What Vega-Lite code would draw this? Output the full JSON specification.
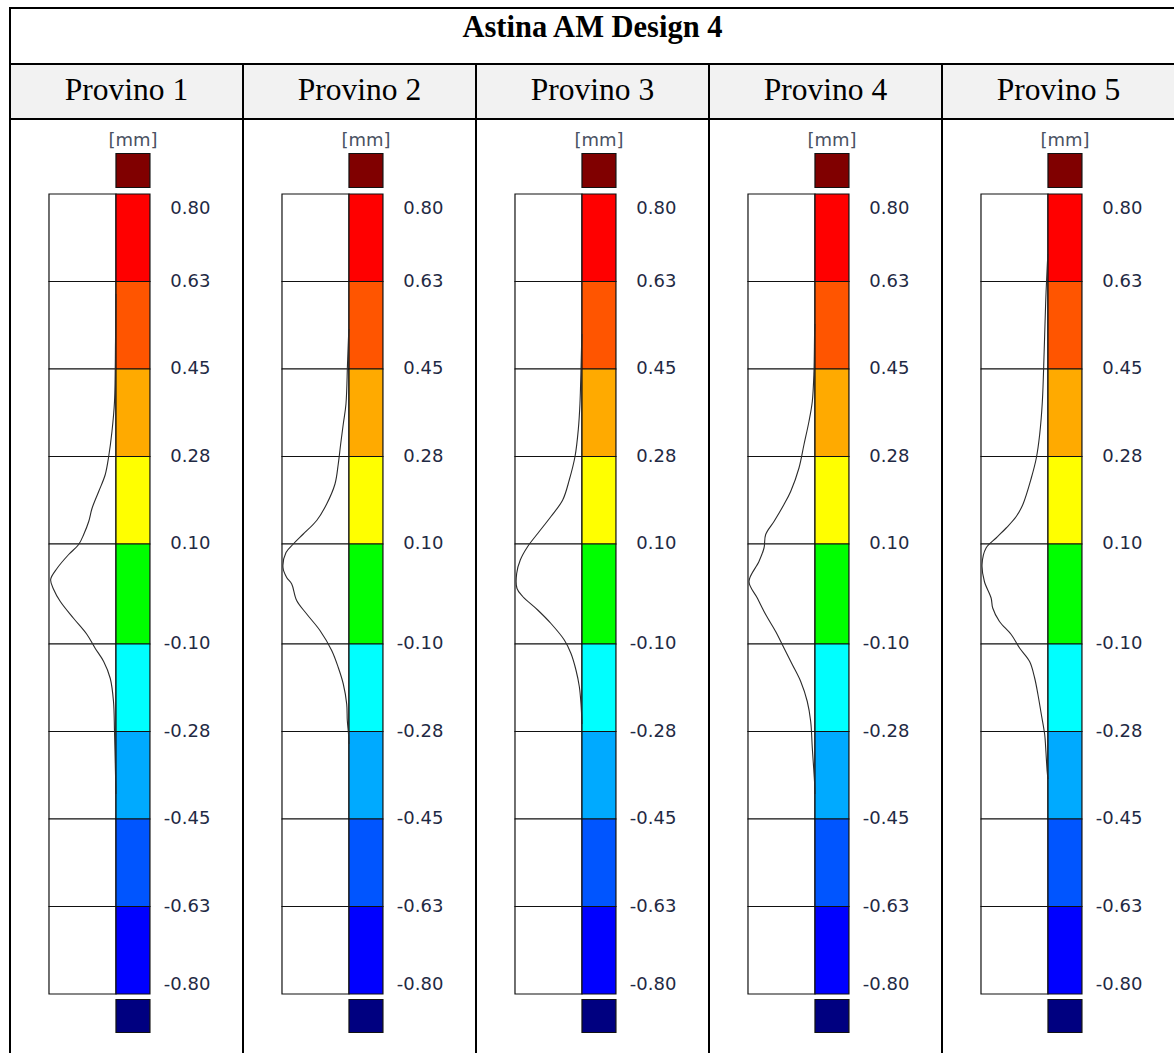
{
"$schema": "https://vega.github.io/schema/vega-lite/v6.json",
"padding": {"left": 8, "top": 6, "right": 0, "bottom": 0},
"background": "white",
"config": {"view": {"stroke": "#000", "strokeWidth": 2}, "axis": {"disable": true}, "legend": {"disable": true}},
"spacing": 0,
"bounds": "flush",
"datasets": {
"panels": [{"panel": "Provino 1"}, {"panel": "Provino 2"}, {"panel": "Provino 3"}, {"panel": "Provino 4"}, {"panel": "Provino 5"}],
"body": [
{"panel":"Provino 1","kind":"out","bin":"over","lo":0.813,"hi":0.881},
{"panel":"Provino 1","kind":"bin","bin":"c1","lo":0.625,"hi":0.8},
{"panel":"Provino 1","kind":"bin","bin":"c2","lo":0.45,"hi":0.625},
{"panel":"Provino 1","kind":"bin","bin":"c3","lo":0.275,"hi":0.45},
{"panel":"Provino 1","kind":"bin","bin":"c4","lo":0.1,"hi":0.275},
{"panel":"Provino 1","kind":"bin","bin":"c5","lo":-0.1,"hi":0.1},
{"panel":"Provino 1","kind":"bin","bin":"c6","lo":-0.275,"hi":-0.1},
{"panel":"Provino 1","kind":"bin","bin":"c7","lo":-0.45,"hi":-0.275},
{"panel":"Provino 1","kind":"bin","bin":"c8","lo":-0.625,"hi":-0.45},
{"panel":"Provino 1","kind":"bin","bin":"c9","lo":-0.8,"hi":-0.625},
{"panel":"Provino 1","kind":"out","bin":"under","lo":-0.877,"hi":-0.811},
{"panel":"Provino 2","kind":"out","bin":"over","lo":0.813,"hi":0.881},
{"panel":"Provino 2","kind":"bin","bin":"c1","lo":0.625,"hi":0.8},
{"panel":"Provino 2","kind":"bin","bin":"c2","lo":0.45,"hi":0.625},
{"panel":"Provino 2","kind":"bin","bin":"c3","lo":0.275,"hi":0.45},
{"panel":"Provino 2","kind":"bin","bin":"c4","lo":0.1,"hi":0.275},
{"panel":"Provino 2","kind":"bin","bin":"c5","lo":-0.1,"hi":0.1},
{"panel":"Provino 2","kind":"bin","bin":"c6","lo":-0.275,"hi":-0.1},
{"panel":"Provino 2","kind":"bin","bin":"c7","lo":-0.45,"hi":-0.275},
{"panel":"Provino 2","kind":"bin","bin":"c8","lo":-0.625,"hi":-0.45},
{"panel":"Provino 2","kind":"bin","bin":"c9","lo":-0.8,"hi":-0.625},
{"panel":"Provino 2","kind":"out","bin":"under","lo":-0.877,"hi":-0.811},
{"panel":"Provino 3","kind":"out","bin":"over","lo":0.813,"hi":0.881},
{"panel":"Provino 3","kind":"bin","bin":"c1","lo":0.625,"hi":0.8},
{"panel":"Provino 3","kind":"bin","bin":"c2","lo":0.45,"hi":0.625},
{"panel":"Provino 3","kind":"bin","bin":"c3","lo":0.275,"hi":0.45},
{"panel":"Provino 3","kind":"bin","bin":"c4","lo":0.1,"hi":0.275},
{"panel":"Provino 3","kind":"bin","bin":"c5","lo":-0.1,"hi":0.1},
{"panel":"Provino 3","kind":"bin","bin":"c6","lo":-0.275,"hi":-0.1},
{"panel":"Provino 3","kind":"bin","bin":"c7","lo":-0.45,"hi":-0.275},
{"panel":"Provino 3","kind":"bin","bin":"c8","lo":-0.625,"hi":-0.45},
{"panel":"Provino 3","kind":"bin","bin":"c9","lo":-0.8,"hi":-0.625},
{"panel":"Provino 3","kind":"out","bin":"under","lo":-0.877,"hi":-0.811},
{"panel":"Provino 4","kind":"out","bin":"over","lo":0.813,"hi":0.881},
{"panel":"Provino 4","kind":"bin","bin":"c1","lo":0.625,"hi":0.8},
{"panel":"Provino 4","kind":"bin","bin":"c2","lo":0.45,"hi":0.625},
{"panel":"Provino 4","kind":"bin","bin":"c3","lo":0.275,"hi":0.45},
{"panel":"Provino 4","kind":"bin","bin":"c4","lo":0.1,"hi":0.275},
{"panel":"Provino 4","kind":"bin","bin":"c5","lo":-0.1,"hi":0.1},
{"panel":"Provino 4","kind":"bin","bin":"c6","lo":-0.275,"hi":-0.1},
{"panel":"Provino 4","kind":"bin","bin":"c7","lo":-0.45,"hi":-0.275},
{"panel":"Provino 4","kind":"bin","bin":"c8","lo":-0.625,"hi":-0.45},
{"panel":"Provino 4","kind":"bin","bin":"c9","lo":-0.8,"hi":-0.625},
{"panel":"Provino 4","kind":"out","bin":"under","lo":-0.877,"hi":-0.811},
{"panel":"Provino 5","kind":"out","bin":"over","lo":0.813,"hi":0.881},
{"panel":"Provino 5","kind":"bin","bin":"c1","lo":0.625,"hi":0.8},
{"panel":"Provino 5","kind":"bin","bin":"c2","lo":0.45,"hi":0.625},
{"panel":"Provino 5","kind":"bin","bin":"c3","lo":0.275,"hi":0.45},
{"panel":"Provino 5","kind":"bin","bin":"c4","lo":0.1,"hi":0.275},
{"panel":"Provino 5","kind":"bin","bin":"c5","lo":-0.1,"hi":0.1},
{"panel":"Provino 5","kind":"bin","bin":"c6","lo":-0.275,"hi":-0.1},
{"panel":"Provino 5","kind":"bin","bin":"c7","lo":-0.45,"hi":-0.275},
{"panel":"Provino 5","kind":"bin","bin":"c8","lo":-0.625,"hi":-0.45},
{"panel":"Provino 5","kind":"bin","bin":"c9","lo":-0.8,"hi":-0.625},
{"panel":"Provino 5","kind":"out","bin":"under","lo":-0.877,"hi":-0.811},

{"panel":"Provino 1","kind":"label","pos":"top","v":0.8,"text":"0.80"},
{"panel":"Provino 1","kind":"label","pos":"mid","v":0.625,"text":"0.63"},
{"panel":"Provino 1","kind":"label","pos":"mid","v":0.45,"text":"0.45"},
{"panel":"Provino 1","kind":"label","pos":"mid","v":0.275,"text":"0.28"},
{"panel":"Provino 1","kind":"label","pos":"mid","v":0.1,"text":"0.10"},
{"panel":"Provino 1","kind":"label","pos":"mid","v":-0.1,"text":"-0.10"},
{"panel":"Provino 1","kind":"label","pos":"mid","v":-0.275,"text":"-0.28"},
{"panel":"Provino 1","kind":"label","pos":"mid","v":-0.45,"text":"-0.45"},
{"panel":"Provino 1","kind":"label","pos":"mid","v":-0.625,"text":"-0.63"},
{"panel":"Provino 1","kind":"label","pos":"bot","v":-0.8,"text":"-0.80"},
{"panel":"Provino 2","kind":"label","pos":"top","v":0.8,"text":"0.80"},
{"panel":"Provino 2","kind":"label","pos":"mid","v":0.625,"text":"0.63"},
{"panel":"Provino 2","kind":"label","pos":"mid","v":0.45,"text":"0.45"},
{"panel":"Provino 2","kind":"label","pos":"mid","v":0.275,"text":"0.28"},
{"panel":"Provino 2","kind":"label","pos":"mid","v":0.1,"text":"0.10"},
{"panel":"Provino 2","kind":"label","pos":"mid","v":-0.1,"text":"-0.10"},
{"panel":"Provino 2","kind":"label","pos":"mid","v":-0.275,"text":"-0.28"},
{"panel":"Provino 2","kind":"label","pos":"mid","v":-0.45,"text":"-0.45"},
{"panel":"Provino 2","kind":"label","pos":"mid","v":-0.625,"text":"-0.63"},
{"panel":"Provino 2","kind":"label","pos":"bot","v":-0.8,"text":"-0.80"},
{"panel":"Provino 3","kind":"label","pos":"top","v":0.8,"text":"0.80"},
{"panel":"Provino 3","kind":"label","pos":"mid","v":0.625,"text":"0.63"},
{"panel":"Provino 3","kind":"label","pos":"mid","v":0.45,"text":"0.45"},
{"panel":"Provino 3","kind":"label","pos":"mid","v":0.275,"text":"0.28"},
{"panel":"Provino 3","kind":"label","pos":"mid","v":0.1,"text":"0.10"},
{"panel":"Provino 3","kind":"label","pos":"mid","v":-0.1,"text":"-0.10"},
{"panel":"Provino 3","kind":"label","pos":"mid","v":-0.275,"text":"-0.28"},
{"panel":"Provino 3","kind":"label","pos":"mid","v":-0.45,"text":"-0.45"},
{"panel":"Provino 3","kind":"label","pos":"mid","v":-0.625,"text":"-0.63"},
{"panel":"Provino 3","kind":"label","pos":"bot","v":-0.8,"text":"-0.80"},
{"panel":"Provino 4","kind":"label","pos":"top","v":0.8,"text":"0.80"},
{"panel":"Provino 4","kind":"label","pos":"mid","v":0.625,"text":"0.63"},
{"panel":"Provino 4","kind":"label","pos":"mid","v":0.45,"text":"0.45"},
{"panel":"Provino 4","kind":"label","pos":"mid","v":0.275,"text":"0.28"},
{"panel":"Provino 4","kind":"label","pos":"mid","v":0.1,"text":"0.10"},
{"panel":"Provino 4","kind":"label","pos":"mid","v":-0.1,"text":"-0.10"},
{"panel":"Provino 4","kind":"label","pos":"mid","v":-0.275,"text":"-0.28"},
{"panel":"Provino 4","kind":"label","pos":"mid","v":-0.45,"text":"-0.45"},
{"panel":"Provino 4","kind":"label","pos":"mid","v":-0.625,"text":"-0.63"},
{"panel":"Provino 4","kind":"label","pos":"bot","v":-0.8,"text":"-0.80"},
{"panel":"Provino 5","kind":"label","pos":"top","v":0.8,"text":"0.80"},
{"panel":"Provino 5","kind":"label","pos":"mid","v":0.625,"text":"0.63"},
{"panel":"Provino 5","kind":"label","pos":"mid","v":0.45,"text":"0.45"},
{"panel":"Provino 5","kind":"label","pos":"mid","v":0.275,"text":"0.28"},
{"panel":"Provino 5","kind":"label","pos":"mid","v":0.1,"text":"0.10"},
{"panel":"Provino 5","kind":"label","pos":"mid","v":-0.1,"text":"-0.10"},
{"panel":"Provino 5","kind":"label","pos":"mid","v":-0.275,"text":"-0.28"},
{"panel":"Provino 5","kind":"label","pos":"mid","v":-0.45,"text":"-0.45"},
{"panel":"Provino 5","kind":"label","pos":"mid","v":-0.625,"text":"-0.63"},
{"panel":"Provino 5","kind":"label","pos":"bot","v":-0.8,"text":"-0.80"},

{"panel":"Provino 1","kind":"curve","v":0.6,"d":0},
{"panel":"Provino 1","kind":"curve","v":0.505,"d":0.007},
{"panel":"Provino 1","kind":"curve","v":0.385,"d":0.022},
{"panel":"Provino 1","kind":"curve","v":0.325,"d":0.06},
{"panel":"Provino 1","kind":"curve","v":0.275,"d":0.109},
{"panel":"Provino 1","kind":"curve","v":0.239,"d":0.16},
{"panel":"Provino 1","kind":"curve","v":0.205,"d":0.258},
{"panel":"Provino 1","kind":"curve","v":0.171,"d":0.358},
{"panel":"Provino 1","kind":"curve","v":0.145,"d":0.407},
{"panel":"Provino 1","kind":"curve","v":0.119,"d":0.482},
{"panel":"Provino 1","kind":"curve","v":0.099,"d":0.557},
{"panel":"Provino 1","kind":"curve","v":0.079,"d":0.706},
{"panel":"Provino 1","kind":"curve","v":0.051,"d":0.881},
{"panel":"Provino 1","kind":"curve","v":0.029,"d":0.975},
{"panel":"Provino 1","kind":"curve","v":0.009,"d":0.93},
{"panel":"Provino 1","kind":"curve","v":-0.015,"d":0.831},
{"panel":"Provino 1","kind":"curve","v":-0.049,"d":0.631},
{"panel":"Provino 1","kind":"curve","v":-0.081,"d":0.433},
{"panel":"Provino 1","kind":"curve","v":-0.109,"d":0.309},
{"panel":"Provino 1","kind":"curve","v":-0.135,"d":0.184},
{"panel":"Provino 1","kind":"curve","v":-0.169,"d":0.085},
{"panel":"Provino 1","kind":"curve","v":-0.215,"d":0.037},
{"panel":"Provino 1","kind":"curve","v":-0.275,"d":0.022},
{"panel":"Provino 1","kind":"curve","v":-0.361,"d":0.007},
{"panel":"Provino 1","kind":"curve","v":-0.4,"d":0},

{"panel":"Provino 2","kind":"curve","v":0.53,"d":0},
{"panel":"Provino 2","kind":"curve","v":0.514,"d":0.007},
{"panel":"Provino 2","kind":"curve","v":0.46,"d":0.022},
{"panel":"Provino 2","kind":"curve","v":0.38,"d":0.045},
{"panel":"Provino 2","kind":"curve","v":0.34,"d":0.085},
{"panel":"Provino 2","kind":"curve","v":0.3,"d":0.124},
{"panel":"Provino 2","kind":"curve","v":0.26,"d":0.16},
{"panel":"Provino 2","kind":"curve","v":0.22,"d":0.209},
{"panel":"Provino 2","kind":"curve","v":0.18,"d":0.333},
{"panel":"Provino 2","kind":"curve","v":0.147,"d":0.482},
{"panel":"Provino 2","kind":"curve","v":0.12,"d":0.682},
{"panel":"Provino 2","kind":"curve","v":0.1,"d":0.831},
{"panel":"Provino 2","kind":"curve","v":0.083,"d":0.94},
{"panel":"Provino 2","kind":"curve","v":0.053,"d":0.985},
{"panel":"Provino 2","kind":"curve","v":0.033,"d":0.93},
{"panel":"Provino 2","kind":"curve","v":0.02,"d":0.855},
{"panel":"Provino 2","kind":"curve","v":-0.013,"d":0.781},
{"panel":"Provino 2","kind":"curve","v":-0.04,"d":0.631},
{"panel":"Provino 2","kind":"curve","v":-0.073,"d":0.433},
{"panel":"Provino 2","kind":"curve","v":-0.113,"d":0.258},
{"panel":"Provino 2","kind":"curve","v":-0.147,"d":0.16},
{"panel":"Provino 2","kind":"curve","v":-0.18,"d":0.085},
{"panel":"Provino 2","kind":"curve","v":-0.22,"d":0.034},
{"panel":"Provino 2","kind":"curve","v":-0.253,"d":0.025},
{"panel":"Provino 2","kind":"curve","v":-0.28,"d":0.007},
{"panel":"Provino 2","kind":"curve","v":-0.3,"d":0},

{"panel":"Provino 3","kind":"curve","v":0.52,"d":0},
{"panel":"Provino 3","kind":"curve","v":0.501,"d":0.005},
{"panel":"Provino 3","kind":"curve","v":0.381,"d":0.03},
{"panel":"Provino 3","kind":"curve","v":0.329,"d":0.055},
{"panel":"Provino 3","kind":"curve","v":0.275,"d":0.104},
{"panel":"Provino 3","kind":"curve","v":0.228,"d":0.19},
{"panel":"Provino 3","kind":"curve","v":0.188,"d":0.288},
{"panel":"Provino 3","kind":"curve","v":0.155,"d":0.463},
{"panel":"Provino 3","kind":"curve","v":0.121,"d":0.661},
{"panel":"Provino 3","kind":"curve","v":0.095,"d":0.81},
{"panel":"Provino 3","kind":"curve","v":0.068,"d":0.921},
{"panel":"Provino 3","kind":"curve","v":0.041,"d":0.975},
{"panel":"Provino 3","kind":"curve","v":0.011,"d":0.97},
{"panel":"Provino 3","kind":"curve","v":-0.005,"d":0.885},
{"panel":"Provino 3","kind":"curve","v":-0.032,"d":0.661},
{"panel":"Provino 3","kind":"curve","v":-0.059,"d":0.463},
{"panel":"Provino 3","kind":"curve","v":-0.092,"d":0.264},
{"panel":"Provino 3","kind":"curve","v":-0.119,"d":0.164},
{"panel":"Provino 3","kind":"curve","v":-0.152,"d":0.09},
{"panel":"Provino 3","kind":"curve","v":-0.185,"d":0.04},
{"panel":"Provino 3","kind":"curve","v":-0.219,"d":0.015},
{"panel":"Provino 3","kind":"curve","v":-0.26,"d":0},

{"panel":"Provino 4","kind":"curve","v":0.54,"d":0},
{"panel":"Provino 4","kind":"curve","v":0.525,"d":0.005},
{"panel":"Provino 4","kind":"curve","v":0.445,"d":0.015},
{"panel":"Provino 4","kind":"curve","v":0.385,"d":0.04},
{"panel":"Provino 4","kind":"curve","v":0.345,"d":0.09},
{"panel":"Provino 4","kind":"curve","v":0.299,"d":0.164},
{"panel":"Provino 4","kind":"curve","v":0.252,"d":0.239},
{"panel":"Provino 4","kind":"curve","v":0.205,"d":0.363},
{"panel":"Provino 4","kind":"curve","v":0.179,"d":0.463},
{"panel":"Provino 4","kind":"curve","v":0.145,"d":0.612},
{"panel":"Provino 4","kind":"curve","v":0.119,"d":0.736},
{"panel":"Provino 4","kind":"curve","v":0.092,"d":0.761},
{"panel":"Provino 4","kind":"curve","v":0.065,"d":0.836},
{"panel":"Provino 4","kind":"curve","v":0.025,"d":0.985},
{"panel":"Provino 4","kind":"curve","v":-0.008,"d":0.861},
{"panel":"Provino 4","kind":"curve","v":-0.041,"d":0.736},
{"panel":"Provino 4","kind":"curve","v":-0.075,"d":0.587},
{"panel":"Provino 4","kind":"curve","v":-0.108,"d":0.463},
{"panel":"Provino 4","kind":"curve","v":-0.141,"d":0.339},
{"panel":"Provino 4","kind":"curve","v":-0.175,"d":0.213},
{"panel":"Provino 4","kind":"curve","v":-0.215,"d":0.115},
{"panel":"Provino 4","kind":"curve","v":-0.255,"d":0.064},
{"panel":"Provino 4","kind":"curve","v":-0.308,"d":0.04},
{"panel":"Provino 4","kind":"curve","v":-0.375,"d":0.007},
{"panel":"Provino 4","kind":"curve","v":-0.4,"d":0},

{"panel":"Provino 5","kind":"curve","v":0.68,"d":0},
{"panel":"Provino 5","kind":"curve","v":0.659,"d":0.01},
{"panel":"Provino 5","kind":"curve","v":0.585,"d":0.034},
{"panel":"Provino 5","kind":"curve","v":0.485,"d":0.057},
{"panel":"Provino 5","kind":"curve","v":0.385,"d":0.084},
{"panel":"Provino 5","kind":"curve","v":0.319,"d":0.124},
{"panel":"Provino 5","kind":"curve","v":0.272,"d":0.174},
{"panel":"Provino 5","kind":"curve","v":0.232,"d":0.249},
{"panel":"Provino 5","kind":"curve","v":0.179,"d":0.375},
{"panel":"Provino 5","kind":"curve","v":0.155,"d":0.474},
{"panel":"Provino 5","kind":"curve","v":0.132,"d":0.624},
{"panel":"Provino 5","kind":"curve","v":0.112,"d":0.774},
{"panel":"Provino 5","kind":"curve","v":0.092,"d":0.924},
{"panel":"Provino 5","kind":"curve","v":0.059,"d":0.984},
{"panel":"Provino 5","kind":"curve","v":0.025,"d":0.949},
{"panel":"Provino 5","kind":"curve","v":-0.008,"d":0.849},
{"panel":"Provino 5","kind":"curve","v":-0.028,"d":0.825},
{"panel":"Provino 5","kind":"curve","v":-0.055,"d":0.724},
{"panel":"Provino 5","kind":"curve","v":-0.081,"d":0.549},
{"panel":"Provino 5","kind":"curve","v":-0.108,"d":0.424},
{"panel":"Provino 5","kind":"curve","v":-0.135,"d":0.274},
{"panel":"Provino 5","kind":"curve","v":-0.168,"d":0.199},
{"panel":"Provino 5","kind":"curve","v":-0.201,"d":0.15},
{"panel":"Provino 5","kind":"curve","v":-0.241,"d":0.099},
{"panel":"Provino 5","kind":"curve","v":-0.281,"d":0.049},
{"panel":"Provino 5","kind":"curve","v":-0.308,"d":0.034},
{"panel":"Provino 5","kind":"curve","v":-0.355,"d":0.012},
{"panel":"Provino 5","kind":"curve","v":-0.37,"d":0}
]
},
"vconcat": [
{
"width": 1165, "height": 56,
"data": {"values": [{"t": "Astina AM Design 4"}]},
"layer": [
{"mark": {"type": "rect", "fill": "#ffffff", "stroke": "#000", "strokeWidth": 2},
 "encoding": {
  "x": {"datum": 0, "type": "quantitative", "scale": {"domain": [0, 1], "nice": false, "zero": false}},
  "x2": {"datum": 1},
  "y": {"datum": 0, "type": "quantitative", "scale": {"domain": [0, 1], "nice": false, "zero": false}},
  "y2": {"datum": 1}}},
{"mark": {"type": "text", "font": "Liberation Serif", "fontSize": 30.5, "fontWeight": "bold", "color": "#000", "baseline": "alphabetic", "align": "center", "dy": 1},
 "encoding": {
  "x": {"datum": 0.5, "type": "quantitative", "scale": {"domain": [0, 1], "nice": false, "zero": false}},
  "y": {"datum": 0.5, "type": "quantitative", "scale": {"domain": [0, 1], "nice": false, "zero": false}},
  "text": {"field": "t", "type": "nominal"}}}
]
},
{
"width": 1165, "height": 55,
"data": {"name": "panels"},
"layer": [
{"mark": {"type": "rect", "fill": "#f2f2f2", "stroke": "#000", "strokeWidth": 2},
 "encoding": {"x": {"field": "panel", "type": "nominal", "scale": {"paddingInner": 0, "paddingOuter": 0}}}},
{"mark": {"type": "text", "font": "Liberation Serif", "fontSize": 31.5, "color": "#000", "baseline": "alphabetic", "dy": 8},
 "encoding": {"x": {"field": "panel", "type": "nominal", "scale": {"paddingInner": 0, "paddingOuter": 0}}, "text": {"field": "panel", "type": "nominal"}}}
]
},
{
"data": {"name": "body"},
"facet": {"column": {"field": "panel", "type": "nominal", "header": null}},
"spacing": 0,
"bounds": "flush",
"spec": {
"width": 233, "height": 936,
"layer": [
{"transform": [{"filter": {"field": "kind", "equal": "bin"}}],
 "mark": {"type": "rect", "fill": "#ffffff", "stroke": "#111", "strokeWidth": 1.2},
 "encoding": {
  "x": {"datum": 1, "type": "quantitative", "scale": {"domain": [1.582, -1.896], "nice": false, "zero": false}},
  "x2": {"datum": 0},
  "y": {"field": "lo", "type": "quantitative", "scale": {"domain": [-0.922, 0.95], "nice": false, "zero": false}},
  "y2": {"field": "hi"}}},
{"transform": [{"filter": {"field": "kind", "oneOf": ["bin", "out"]}}],
 "mark": {"type": "rect", "stroke": "#111", "strokeWidth": 1.2, "opacity": 1},
 "encoding": {
  "x": {"datum": 0, "type": "quantitative", "scale": {"domain": [1.582, -1.896], "nice": false, "zero": false}},
  "x2": {"datum": -0.507},
  "y": {"field": "lo", "type": "quantitative", "scale": {"domain": [-0.922, 0.95], "nice": false, "zero": false}},
  "y2": {"field": "hi"},
  "color": {"field": "bin", "type": "nominal", "legend": null,
   "scale": {"domain": ["over", "c1", "c2", "c3", "c4", "c5", "c6", "c7", "c8", "c9", "under"],
             "range": ["#800000", "#ff0000", "#ff5500", "#ffaa00", "#ffff00", "#00ff00", "#00ffff", "#00aaff", "#0055ff", "#0000ff", "#000080"]}}}},
{"transform": [{"filter": {"field": "kind", "equal": "curve"}}],
 "mark": {"type": "line", "color": "#2b2b2b", "strokeWidth": 1.1, "interpolate": "catmull-rom"},
 "encoding": {
  "x": {"field": "d", "type": "quantitative", "scale": {"domain": [1.582, -1.896], "nice": false, "zero": false}},
  "y": {"field": "v", "type": "quantitative", "scale": {"domain": [-0.922, 0.95], "nice": false, "zero": false}},
  "order": {"field": "v", "type": "quantitative"}}},
{"transform": [{"filter": "datum.kind == 'label' && datum.pos == 'mid'"}],
 "mark": {"type": "text", "font": "DejaVu Sans", "fontSize": 18, "color": "#1f2a44", "align": "right", "baseline": "middle"},
 "encoding": {
  "x": {"datum": -1.41, "type": "quantitative", "scale": {"domain": [1.582, -1.896], "nice": false, "zero": false}},
  "y": {"field": "v", "type": "quantitative", "scale": {"domain": [-0.922, 0.95], "nice": false, "zero": false}},
  "text": {"field": "text", "type": "nominal"}}},
{"transform": [{"filter": "datum.kind == 'label' && datum.pos == 'top'"}],
 "mark": {"type": "text", "font": "DejaVu Sans", "fontSize": 18, "color": "#1f2a44", "align": "right", "baseline": "alphabetic", "dy": 20},
 "encoding": {
  "x": {"datum": -1.41, "type": "quantitative", "scale": {"domain": [1.582, -1.896], "nice": false, "zero": false}},
  "y": {"field": "v", "type": "quantitative", "scale": {"domain": [-0.922, 0.95], "nice": false, "zero": false}},
  "text": {"field": "text", "type": "nominal"}}},
{"transform": [{"filter": "datum.kind == 'label' && datum.pos == 'bot'"}],
 "mark": {"type": "text", "font": "DejaVu Sans", "fontSize": 18, "color": "#1f2a44", "align": "right", "baseline": "alphabetic", "dy": -4},
 "encoding": {
  "x": {"datum": -1.41, "type": "quantitative", "scale": {"domain": [1.582, -1.896], "nice": false, "zero": false}},
  "y": {"field": "v", "type": "quantitative", "scale": {"domain": [-0.922, 0.95], "nice": false, "zero": false}},
  "text": {"field": "text", "type": "nominal"}}},
{"transform": [{"filter": {"field": "bin", "equal": "over"}}],
 "mark": {"type": "text", "text": "[mm]", "font": "DejaVu Sans", "fontSize": 18, "color": "#4a5262", "align": "center", "baseline": "alphabetic", "dy": -8},
 "encoding": {
  "x": {"datum": -0.254, "type": "quantitative", "scale": {"domain": [1.582, -1.896], "nice": false, "zero": false}},
  "y": {"field": "hi", "type": "quantitative", "scale": {"domain": [-0.922, 0.95], "nice": false, "zero": false}}}}
]
}
}
]
}
